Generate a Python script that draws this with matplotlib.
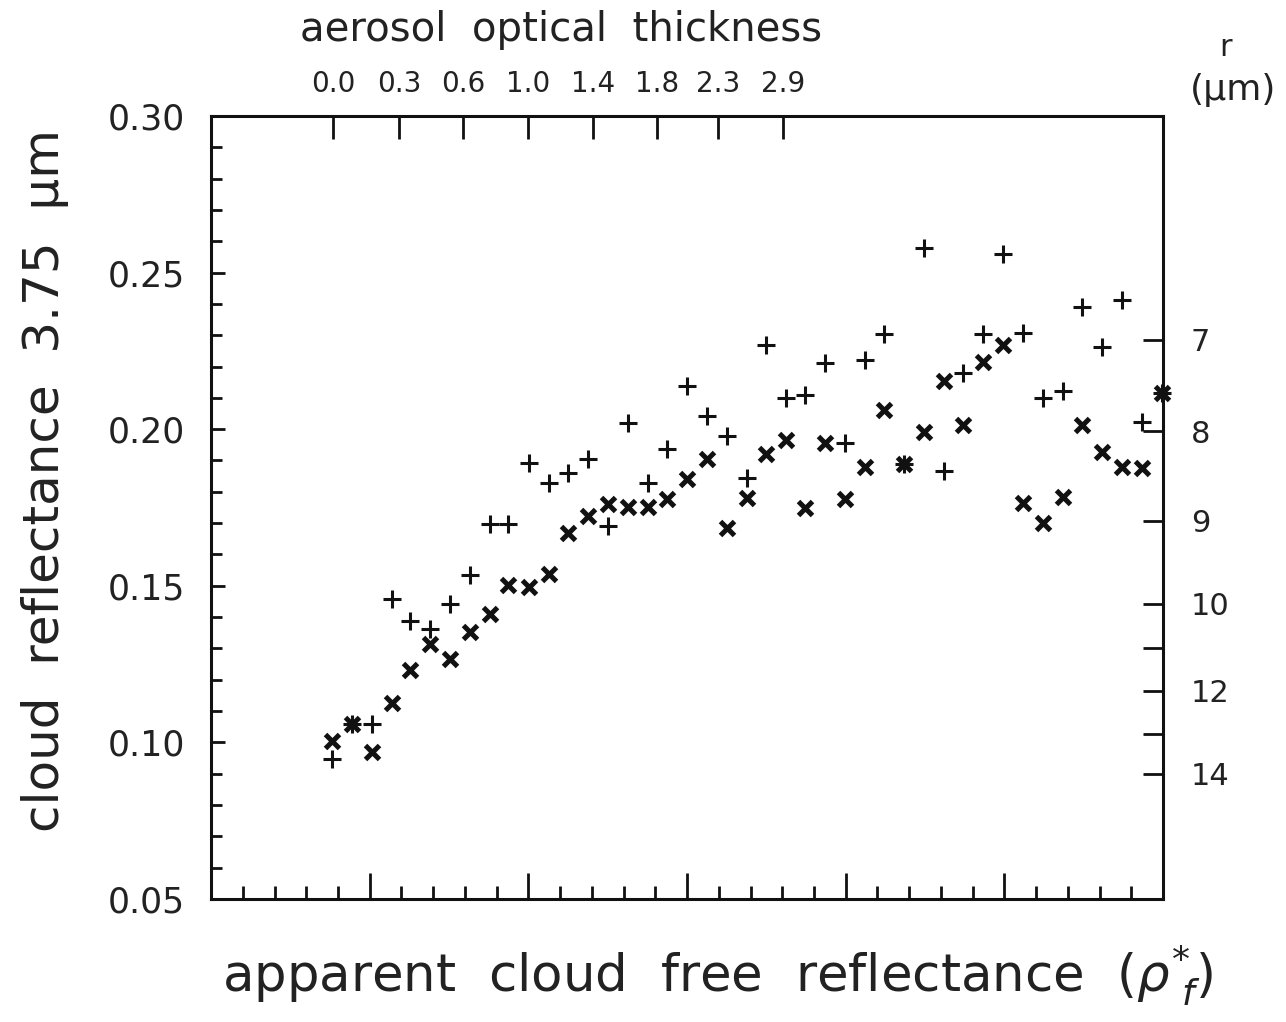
import matplotlib
matplotlib.use("Agg")
import matplotlib.pyplot as plt
from matplotlib.ticker import MultipleLocator, NullFormatter

plt.rcParams['font.family'] = ['DejaVu Sans']

# apparent cloud free reflectance (bottom axis, no numeric labels)
rho = [0.0381, 0.0444, 0.0507, 0.0570, 0.0627, 0.0690, 0.0753, 0.0816, 0.0879, 0.0936,
       0.1002, 0.1065, 0.1125, 0.1188, 0.1251, 0.1314, 0.1377, 0.1437, 0.1500, 0.1563,
       0.1626, 0.1689, 0.1749, 0.1812, 0.1872, 0.1935, 0.1998, 0.2061, 0.2121, 0.2184,
       0.2247, 0.2310, 0.2370, 0.2433, 0.2496, 0.2559, 0.2622, 0.2685, 0.2745, 0.2808,
       0.2871, 0.2934, 0.2997]

# cloud reflectance 3.75 um, '+' series
refl_plus = [0.0947, 0.1059, 0.1059, 0.1458, 0.1388, 0.1362, 0.1442, 0.1534, 0.1697, 0.1697,
             0.1892, 0.1828, 0.1860, 0.1905, 0.1691, 0.2020, 0.1828, 0.1937, 0.2138, 0.2042,
             0.1978, 0.1844, 0.2269, 0.2100, 0.2109, 0.2211, 0.1956, 0.2221, 0.2304, 0.1889,
             0.2579, 0.1867, 0.2179, 0.2304, 0.2559, 0.2307, 0.2100, 0.2122, 0.2390, 0.2262,
             0.2413, 0.2023, 0.2116]

# cloud reflectance 3.75 um, 'x' series
refl_cross = [0.1004, 0.1059, 0.0969, 0.1126, 0.1231, 0.1314, 0.1266, 0.1352, 0.1410, 0.1503,
              0.1496, 0.1538, 0.1669, 0.1723, 0.1761, 0.1752, 0.1752, 0.1777, 0.1841, 0.1905,
              0.1685, 0.1780, 0.1921, 0.1966, 0.1748, 0.1956, 0.1777, 0.1879, 0.2061, 0.1889,
              0.1991, 0.2154, 0.2013, 0.2215, 0.2269, 0.1764, 0.1701, 0.1784, 0.2013, 0.1927,
              0.1879, 0.1876, 0.2116]

# top axis: aerosol optical thickness
aot_labels = ['0.0', '0.3', '0.6', '1.0', '1.4', '1.8', '2.3', '2.9']
aot_rho = [0.0384, 0.0592, 0.0794, 0.0999, 0.1204, 0.1405, 0.1598, 0.1803]

# right axis: effective radius r (um)
r_labels = ['7', '8', '9', '10', '', '12', '', '14']
r_refl = [0.2285, 0.1994, 0.1707, 0.1442, 0.1301, 0.1164, 0.1027, 0.0899]

y_ticks = [0.05, 0.10, 0.15, 0.20, 0.25, 0.30]
y_ticklabels = ['0.05', '0.10', '0.15', '0.20', '0.25', '0.30']

fig = plt.figure(figsize=(12.86, 10.22), dpi=100)
ax = fig.add_axes([0.1641, 0.1204, 0.7403, 0.7661])
ax.set_xlim(0.0, 0.30)
ax.set_ylim(0.05, 0.30)

ink = '#111111'
txt = '#222222'
for s in ax.spines.values():
    s.set_linewidth(2.2)
    s.set_color(ink)

ax.plot(rho, refl_plus, linestyle='none', marker='+', markersize=13,
        markeredgewidth=2.2, color=ink, clip_on=False, zorder=3)
ax.plot(rho, refl_cross, linestyle='none', marker='x', markersize=10,
        markeredgewidth=3.6, color=ink, clip_on=False, zorder=3)

# bottom axis: ticks only
ax.xaxis.set_major_locator(MultipleLocator(0.05))
ax.xaxis.set_minor_locator(MultipleLocator(0.01))
ax.xaxis.set_major_formatter(NullFormatter())
ax.tick_params(axis='x', which='major', direction='in', length=19, width=2.0, color=ink,
               top=False, bottom=True, labelbottom=False)
ax.tick_params(axis='x', which='minor', direction='in', length=9.5, width=2.0, color=ink,
               top=False, bottom=True)

# left axis
ax.set_yticks(y_ticks)
ax.set_yticklabels(y_ticklabels)
ax.yaxis.set_minor_locator(MultipleLocator(0.01))
ax.tick_params(axis='y', which='major', direction='in', length=10, width=2.0, color=ink,
               right=False, left=True, labelsize=25, pad=19, labelcolor=txt)
ax.tick_params(axis='y', which='minor', direction='in', length=8, width=2.0, color=ink,
               right=False, left=True)

# top axis: aerosol optical thickness
axt = ax.twiny()
axt.set_xlim(ax.get_xlim())
axt.set_xticks(aot_rho)
axt.set_xticklabels(aot_labels)
axt.tick_params(axis='x', direction='in', length=16.5, width=2.0, color=ink,
                labelsize=20, pad=13, labelcolor=txt)
for s in axt.spines.values():
    s.set_visible(False)

# right axis: r (um)
axr = ax.twinx()
axr.set_ylim(ax.get_ylim())
axr.set_yticks(r_refl)
axr.set_yticklabels(r_labels)
axr.tick_params(axis='y', direction='in', length=14.5, width=2.0, color=ink,
                labelsize=22, pad=20, labelcolor=txt)
for s in axr.spines.values():
    s.set_visible(False)

fig.text(45 / 1286, 1 - 480 / 1022, 'cloud  reflectance  3.75  \u00b5m', rotation=90,
         ha='center', va='center', fontsize=36, color=txt)
fig.text(561 / 1286, 1 - 30 / 1022, 'aerosol  optical  thickness', ha='center', va='center',
         fontsize=29, color=txt)
fig.text(1226 / 1286, 1 - 47 / 1022, 'r', ha='center', va='center', fontsize=22, color=txt)
fig.text(1233 / 1286, 1 - 90 / 1022, '(\u00b5m)', ha='center', va='center', fontsize=26,
         color=txt)
fig.text(717 / 1286, 1 - 975 / 1022, r'apparent  cloud  free  reflectance  ($\rho^{*}_{\ f}$)',
         ha='center', va='center', fontsize=37, color=txt)

fig.savefig('out.png', dpi=100)
